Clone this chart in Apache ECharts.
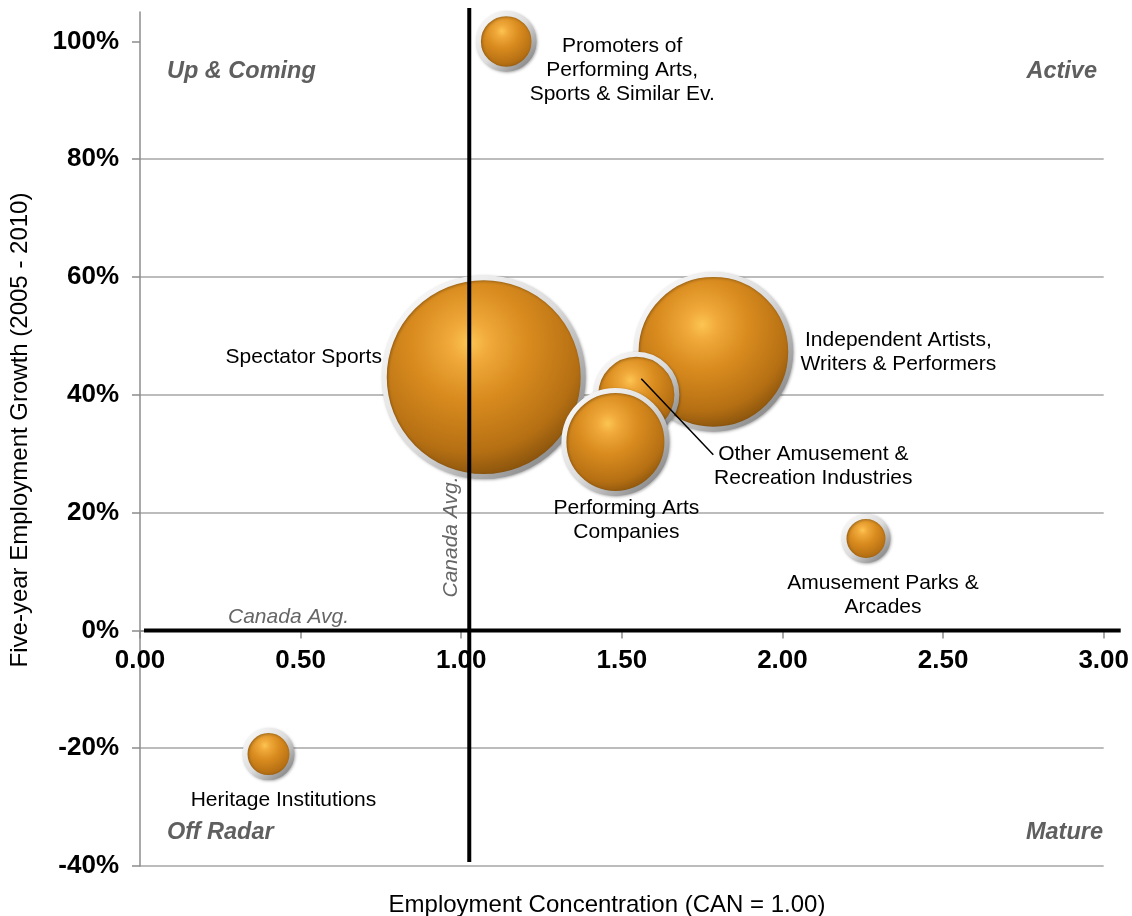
<!DOCTYPE html>
<html>
<head>
<meta charset="utf-8">
<script src="https://cdn.jsdelivr.net/npm/echarts@6/dist/echarts.min.js"></script>
<style>
  html, body { margin: 0; padding: 0; background: #ffffff; }
  #chart { width: 1132px; height: 916px; }
</style>
</head>
<body>
<div id="chart"></div>
<script>
// Industries, in drawing order (later bubbles sit on top of earlier ones)
const industries = [
  'Heritage Institutions',
  'Spectator Sports',
  'Independent Artists,\nWriters & Performers',
  'Other Amusement &\nRecreation Industries',
  'Performing Arts\nCompanies',
  'Amusement Parks &\nArcades',
  'Promoters of\nPerforming Arts,\nSports & Similar Ev.'
];
// Employment concentration (CAN = 1.00)
const concentration = [0.40, 1.07, 1.785, 1.545, 1.48, 2.26, 1.14];
// Five-year employment growth, 2005 - 2010 (%)
const growth = [-21, 43, 47.3, 40, 32, 15.6, 100];
// Relative employment (bubble area)
const bubbleSize = [440, 9400, 5600, 1450, 2400, 380, 640];

const xTicks = [0, 0.5, 1, 1.5, 2, 2.5, 3];
const yTicks = [-40, -20, 0, 20, 40, 60, 80, 100];
const quadrantNames = ['Up & Coming', 'Active', 'Off Radar', 'Mature'];
const canadaAvgConcentration = 1.025;
const canadaAvgGrowth = 0;

const FONT = "'Liberation Sans', Arial, Helvetica, sans-serif";

const Y_MIN = -40, Y_MAX = 105;
const GRID = { left: 140, right: 25, top: 12, bottom: 50 };
const gridHeight = 916 - GRID.top - GRID.bottom;
// keep the category axis on the 0% line
const xAxisOffset = -gridHeight * (0 - Y_MIN) / (Y_MAX - Y_MIN);

// label placement around each bubble (pixels from bubble centre)
const labelOffsets = [[15, 46], [-180, -20], [185, 0], [177, 71], [11, 78], [17, 57], [116, 29]];

const chart = echarts.init(document.getElementById('chart'));

const goldFill = new echarts.graphic.RadialGradient(0.43, 0.33, 0.75, [
  { offset: 0, color: '#fcc553' },
  { offset: 0.13, color: '#f0a93a' },
  { offset: 0.38, color: '#d98b1e' },
  { offset: 0.72, color: '#b56f13' },
  { offset: 1, color: '#6a4008' }
]);
const haloStroke = new echarts.graphic.LinearGradient(0, 0, 1, 1, [
  { offset: 0, color: '#ffffff' },
  { offset: 0.5, color: '#dcdcdc' },
  { offset: 1, color: '#6f6f6f' }
]);

const option = {
  animation: false,
  backgroundColor: '#ffffff',
  grid: GRID,
  xAxis: {
    type: 'value',
    min: 0, max: 3, interval: 0.5,
    position: 'bottom',
    offset: xAxisOffset,
    axisLine: { onZero: false, lineStyle: { color: '#8c8c8c', width: 1.5 } },
    axisTick: { show: true, length: 8, lineStyle: { color: '#8c8c8c', width: 1.5 }, customValues: xTicks },
    axisLabel: {
      customValues: xTicks,
      margin: 17,
      color: '#000', fontSize: 26, fontWeight: 'bold', fontFamily: FONT,
      formatter: v => v.toFixed(2)
    },
    splitLine: { show: false }
  },
  yAxis: {
    type: 'value',
    min: Y_MIN, max: Y_MAX, interval: 20,
    axisLine: { show: true, onZero: false, lineStyle: { color: '#8c8c8c', width: 1.5 } },
    axisTick: { show: true, length: 8, lineStyle: { color: '#8c8c8c', width: 1.5 }, customValues: yTicks },
    axisLabel: {
      customValues: yTicks,
      margin: 21,
      color: '#000', fontSize: 26, fontWeight: 'bold', fontFamily: FONT,
      formatter: v => v + '%'
    },
    splitLine: { show: true, showMaxLine: false, lineStyle: { color: '#a6a6a6', width: 1.5 } }
  },
  series: [{
    type: 'scatter',
    z: 3,
    data: industries.map((name, i) => ({
      name,
      value: [concentration[i], growth[i], bubbleSize[i]],
      label: { offset: labelOffsets[i] }
    })),
    symbol: 'circle',
    symbolSize: v => 2 * Math.sqrt(v[2]) + 5,
    itemStyle: {
      opacity: 1,
      color: goldFill,
      borderColor: haloStroke,
      borderWidth: 5,
      shadowBlur: 3,
      shadowOffsetX: 1,
      shadowOffsetY: 1,
      shadowColor: 'rgba(0,0,0,0.3)'
    },
    label: {
      show: true,
      position: 'inside',
      formatter: p => p.name,
      color: '#000000',
      textBorderWidth: 0,
      fontSize: 21,
      lineHeight: 24,
      fontFamily: FONT,
      align: 'center',
      verticalAlign: 'middle'
    },
    emphasis: { disabled: true }
  }]
};

chart.setOption(option);

// reference lines, annotations and axis titles
const px = (x, y) => chart.convertToPixel({ gridIndex: 0 }, [x, y]);
const avgV = px(canadaAvgConcentration, 0);
const avgH = px(0, canadaAvgGrowth);
const topLeft = px(0, Y_MAX);
const bottomRight = px(3, Y_MIN);
const otherIdx = 3;
const otherC = px(concentration[otherIdx], growth[otherIdx]);

const quadStyle = { fill: '#5f5f5f', fontSize: 23.5, fontWeight: 'bold', fontStyle: 'italic', fontFamily: FONT };
const avgStyle = { fill: '#666666', fontSize: 21, fontStyle: 'italic', fontFamily: FONT };

chart.setOption({
  graphic: [
    // Canada average – concentration
    { type: 'line', z: 50, shape: { x1: avgV[0], y1: topLeft[1] - 4, x2: avgV[0], y2: bottomRight[1] - 4 },
      style: { stroke: '#000', lineWidth: 4 } },
    // Canada average – growth
    { type: 'line', z: 50, shape: { x1: topLeft[0] + 4, y1: avgH[1], x2: bottomRight[0] + 17, y2: avgH[1] },
      style: { stroke: '#000', lineWidth: 4 } },
    // leader line for Other Amusement & Recreation Industries
    { type: 'line', z: 50, shape: { x1: otherC[0] + 5, y1: otherC[1] - 16, x2: otherC[0] + 77, y2: otherC[1] + 60 },
      style: { stroke: '#000', lineWidth: 1.5 } },
    { type: 'text', z: 50, x: 228, y: avgH[1] - 13,
      style: Object.assign({ text: 'Canada Avg.', verticalAlign: 'middle' }, avgStyle) },
    { type: 'text', z: 50, x: avgV[0] - 18, y: 537, rotation: Math.PI / 2,
      style: Object.assign({ text: 'Canada Avg.', align: 'center', verticalAlign: 'middle' }, avgStyle) },
    // quadrant names
    { type: 'text', z: 50, x: topLeft[0] + 27, y: 72,
      style: Object.assign({ text: quadrantNames[0], align: 'left', verticalAlign: 'middle' }, quadStyle) },
    { type: 'text', z: 50, x: 1097, y: 72,
      style: Object.assign({ text: quadrantNames[1], align: 'right', verticalAlign: 'middle' }, quadStyle) },
    { type: 'text', z: 50, x: topLeft[0] + 27, y: 833,
      style: Object.assign({ text: quadrantNames[2], align: 'left', verticalAlign: 'middle' }, quadStyle) },
    { type: 'text', z: 50, x: 1103, y: 833,
      style: Object.assign({ text: quadrantNames[3], align: 'right', verticalAlign: 'middle' }, quadStyle) },
    // axis titles
    { type: 'text', z: 50, x: 607, y: 905,
      style: { text: 'Employment Concentration (CAN = 1.00)', align: 'center', verticalAlign: 'middle',
               fill: '#000', fontSize: 24, fontFamily: FONT } },
    { type: 'text', z: 50, x: 20, y: 430, rotation: Math.PI / 2,
      style: { text: 'Five-year Employment Growth (2005 - 2010)', align: 'center', verticalAlign: 'middle',
               fill: '#000', fontSize: 24, fontFamily: FONT } }
  ]
});
</script>
</body>
</html>
